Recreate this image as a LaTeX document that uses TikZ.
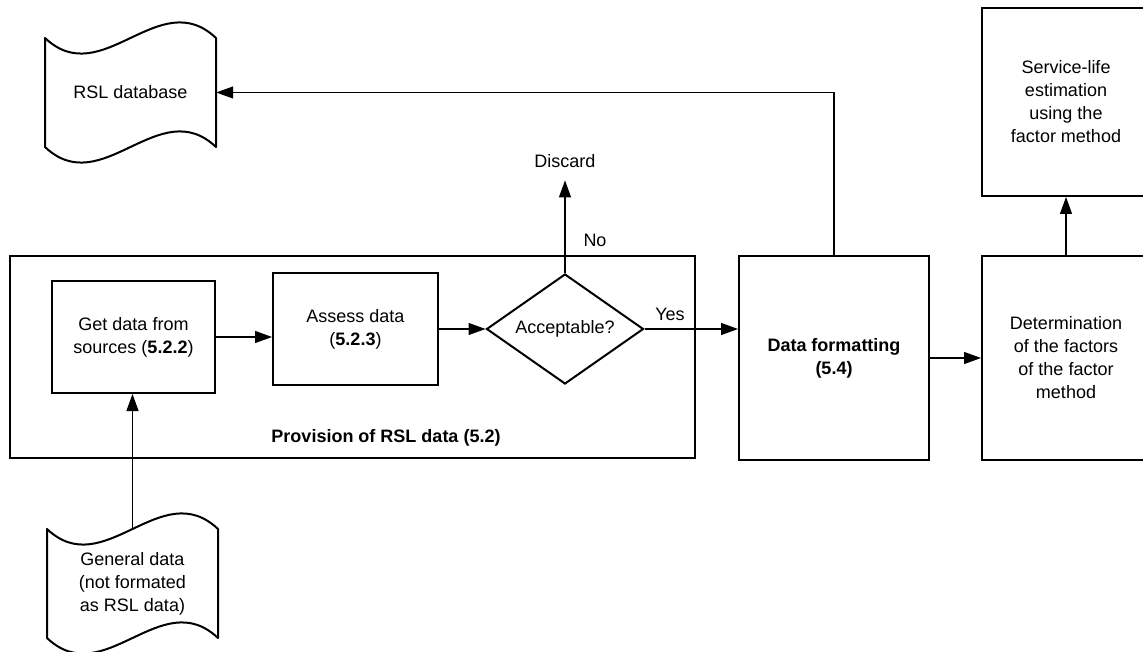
\documentclass[tikz,border=0pt]{standalone}
\usepackage{fontspec}
\setmainfont{Liberation Sans}
\usetikzlibrary{arrows.meta,shapes.geometric}
\tikzset{
  box/.style={draw, line width=2pt, inner sep=2pt, align=center},
  tapetext/.style={inner sep=0pt, align=center},
  tapeline/.style={draw, line width=2pt, line join=round},
  conn/.style={line width=1.2pt, -{Triangle[length=17pt,width=12pt]}},
  lbl/.style={inner sep=0pt},
}
\begin{document}
\begin{tikzpicture}[x=1pt,y=-1pt,font=\fontsize{18}{23}\selectfont]
\useasboundingbox (0,0) rectangle (1143,652);
\clip (0,0) rectangle (1143,652);
\fill[white] (0,0) rectangle (1143,652);

% tape-like document shapes
\node[tapetext, minimum width=171, minimum height=109] (rsldb) at (130.5,92.5) {RSL database};
\draw[tapeline] (45,38) .. controls (102,92) and (159,-16) .. (216,38) -- (216,147)
  .. controls (159,93) and (102,201) .. (45,147) -- cycle;

\node[tapetext, minimum width=171, minimum height=109] (gen) at (132.5,583.5) {General data\\(not formated\\as RSL data)};
\draw[tapeline] (47,529) .. controls (104,583) and (161,475) .. (218,529) -- (218,638)
  .. controls (161,584) and (104,692) .. (47,638) -- cycle;

% outer group
\node[box, minimum width=685, minimum height=202] (prov) at (352.5,357) {};
\node[lbl, font=\fontsize{18}{23}\selectfont\bfseries] (provlabel) at (386,438) {Provision of RSL data (5.2)};

\node[box, minimum width=163, minimum height=112] (get) at (133.5,337) {Get data from\\sources (\textbf{5.2.2})};
\node[box, minimum width=165, minimum height=112] (assess) at (355.5,329) {Assess data\\(\textbf{5.2.3})};
\node[draw, line width=2pt, diamond, aspect=1.43, inner sep=0pt, minimum width=157, minimum height=110] (acc) at (565,329) {Acceptable?};

\node[lbl, anchor=base] (discard) at (565,168) {Discard};
\node[lbl] (no) at (595,240) {No};
\node[lbl] (yes) at (670,314) {Yes};

\node[box, minimum width=190, minimum height=204, font=\fontsize{18}{23}\selectfont\bfseries] (fmt) at (834,358) {Data formatting\\(5.4)};
\node[box, minimum width=168, minimum height=204] (det) at (1066,358) {Determination\\of the factors\\of the factor\\method};
\node[box, minimum width=168, minimum height=188] (slife) at (1066,102) {Service-life\\estimation\\using the\\factor method};

% connectors
\draw[conn] (gen.north) -- (gen.north |- get.south);
\draw[conn] (get.east) -- (get.east -| assess.west);
\draw[conn] (assess.east) -- (acc.west);
\draw[conn] (acc.east) -- (acc.east -| fmt.west);
\draw[conn, shorten >=12pt] (acc.north) -- (discard.south);
\draw[conn] (fmt.north) |- (rsldb.east);
\draw[conn] (fmt.east) -- (det.west);
\draw[conn] (det.north) -- (slife.south);
\end{tikzpicture}
\end{document}
